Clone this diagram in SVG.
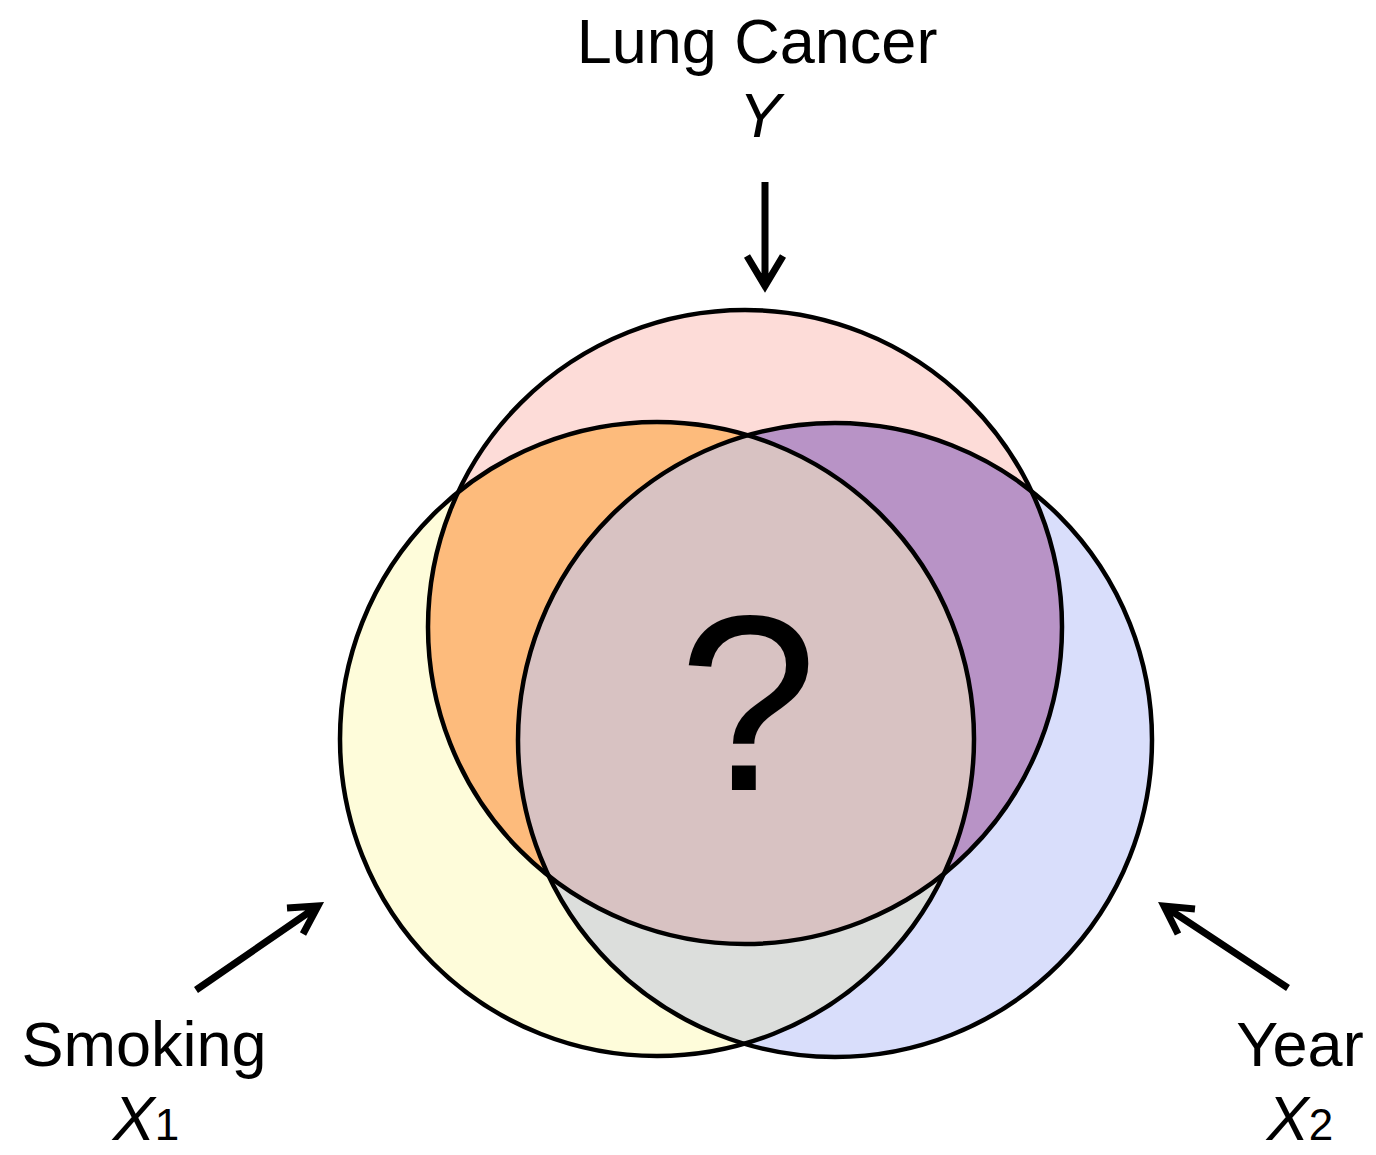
<svg xmlns="http://www.w3.org/2000/svg" width="1376" height="1155" viewBox="0 0 1376 1155">
<style>
.lbl{font-family:"Liberation Sans",Arial,sans-serif;font-size:63px;fill:#000}
.it{font-style:italic}
.ring{fill:none;stroke:#000;stroke-width:4.5}
.arr{fill:none;stroke:#000;stroke-width:7;stroke-linecap:butt;stroke-linejoin:miter}
</style>
<defs>
<clipPath id="cY"><circle cx="745" cy="627" r="317"/></clipPath>
<clipPath id="cX1"><circle cx="657" cy="739" r="317"/></clipPath>
<clipPath id="cX2"><circle cx="835" cy="740" r="317"/></clipPath>
</defs>
<rect width="1376" height="1155" fill="#fff"/>
<g id="fills">
<circle cx="657" cy="739" r="317" fill="#fefcda"/>
<circle cx="835" cy="740" r="317" fill="#d9defb"/>
<circle cx="835" cy="740" r="317" fill="#dcdedc" clip-path="url(#cX1)"/>
<circle cx="745" cy="627" r="317" fill="#fddcd8"/>
<g clip-path="url(#cY)"><circle cx="657" cy="739" r="317" fill="#fdbb7c"/></g>
<g clip-path="url(#cY)"><circle cx="835" cy="740" r="317" fill="#b893c6"/></g>
<g clip-path="url(#cY)"><circle cx="835" cy="740" r="317" fill="#d8c2c2" clip-path="url(#cX1)"/></g>
</g>
<g id="node-Y"><circle class="ring" cx="745" cy="627" r="317"/></g>
<g id="node-X1"><circle class="ring" cx="657" cy="739" r="317"/></g>
<g id="node-X2"><circle class="ring" cx="835" cy="740" r="317"/></g>
<g id="center"><text class="lbl" x="748" y="790" text-anchor="middle" style="font-size:250px">?</text></g>
<g id="label-Y">
<text class="lbl" x="757" y="63" text-anchor="middle">Lung Cancer</text>
<text class="lbl it" x="760" y="137" text-anchor="middle">Y</text>
</g>
<g id="label-X1">
<text class="lbl" x="144" y="1066" text-anchor="middle">Smoking</text>
<text class="lbl" x="146" y="1140" text-anchor="middle"><tspan class="it">X</tspan><tspan font-size="44">1</tspan></text>
</g>
<g id="label-X2">
<text class="lbl" x="1300" y="1066" text-anchor="middle">Year</text>
<text class="lbl" x="1300" y="1140" text-anchor="middle"><tspan class="it">X</tspan><tspan font-size="44">2</tspan></text>
</g>
<g id="connectors">
<path class="arr" d="M765 182 V286 M747 256 L765 286 L783 256"/>
<path class="arr" d="M196 990 L318 906 M287 908 L318 906 L303 934"/>
<path class="arr" d="M1288 988 L1164 906 M1178 934 L1164 906 L1195 909"/>
</g>
</svg>
